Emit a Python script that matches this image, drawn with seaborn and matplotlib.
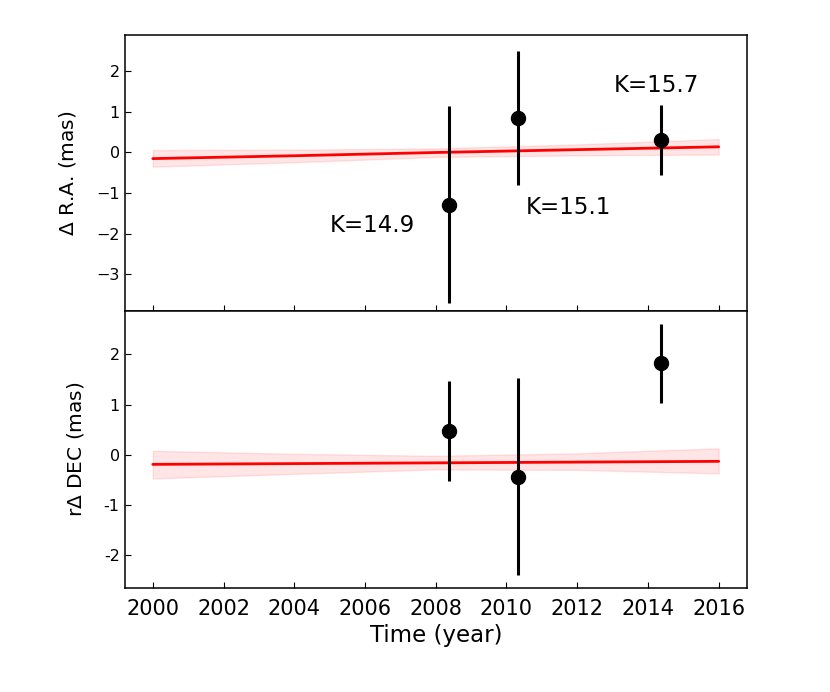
import matplotlib
matplotlib.use("Agg")
import matplotlib.pyplot as plt
from matplotlib.ticker import FuncFormatter
import seaborn as sns
import pandas as pd

# epochs of the three observations
epochs = [2008.37, 2010.33, 2014.38]
kmags = ["K=14.9", "K=15.1", "K=15.7"]

# offsets in R.A. and DEC (mas) with 1-sigma errors
d_ra = [-1.28, 0.84, 0.30]
d_ra_err = [2.43, 1.65, 0.86]
d_dec = [0.47, -0.44, 1.82]
d_dec_err = [0.99, 1.96, 0.79]

# linear fit and its confidence band
fit_years = [2000, 2004, 2008, 2012, 2016]
fit_ra = [-0.15, -0.08, 0.0, 0.07, 0.14]
fit_ra_lo = [-0.35, -0.24, -0.11, -0.07, -0.05]
fit_ra_hi = [0.06, 0.07, 0.10, 0.20, 0.33]
fit_dec = [-0.19, -0.175, -0.16, -0.145, -0.13]
fit_dec_lo = [-0.47, -0.38, -0.29, -0.30, -0.37]
fit_dec_hi = [0.08, 0.02, -0.02, 0.03, 0.13]

# where the K labels sit
label_pos = [(2006.2, -1.8), (2011.75, -1.35), (2014.25, 1.65)]

obs = pd.DataFrame({"year": epochs, "ra": d_ra, "dec": d_dec})
fit = pd.DataFrame({"year": fit_years, "ra": fit_ra, "dec": fit_dec})

sns.set_style("ticks")
plt.rcParams["font.family"] = ["DejaVu Sans"]
plt.rcParams["text.color"] = "black"
plt.rcParams["axes.labelcolor"] = "black"
plt.rcParams["axes.edgecolor"] = "black"
plt.rcParams["xtick.color"] = "black"
plt.rcParams["ytick.color"] = "black"

fig, (ax1, ax2) = plt.subplots(2, 1, figsize=(8.3, 6.92), dpi=100, sharex=True)
fig.subplots_adjust(left=0.15, right=0.9, top=0.95, bottom=0.151, hspace=0)

panels = [
    (ax1, "ra", d_ra_err, fit_ra_lo, fit_ra_hi, r"$\Delta$ R.A. (mas)", (-3.9, 2.9)),
    (ax2, "dec", d_dec_err, fit_dec_lo, fit_dec_hi, r"r$\Delta$ DEC (mas)", (-2.64, 2.86)),
]

for ax, col, err, lo, hi, lab, ylim in panels:
    ax.fill_between(fit_years, lo, hi, color="red", alpha=0.1, edgecolor=(1, 0, 0, 0.15), lw=1)
    sns.lineplot(data=fit, x="year", y=col, ax=ax, color="red", lw=2)
    ax.errorbar(obs["year"], obs[col], yerr=err, fmt="none", ecolor="black", elinewidth=2.2)
    sns.scatterplot(data=obs, x="year", y=col, ax=ax, color="black", s=105, edgecolor="black", zorder=5)
    ax.set_ylim(ylim)
    ax.set_ylabel(lab, fontsize=14.5, labelpad=13)
    ax.tick_params(direction="in", length=4, labelsize=11.5)
    for s in ax.spines.values():
        s.set_linewidth(1.1)

# lower panel uses plain hyphens for negative ticks
ax2.yaxis.set_major_formatter(FuncFormatter(lambda v, p: "%d" % v))

for txt, (x, y) in zip(kmags, label_pos):
    ax1.text(x, y, txt, fontsize=16.5, ha="center", va="center")

ax1.set_xlim(1999.2, 2016.8)
ax2.set_xticks([2000, 2002, 2004, 2006, 2008, 2010, 2012, 2014, 2016])
ax2.tick_params(axis="x", labelsize=15, pad=8)
ax2.set_xlabel("Time (year)", fontsize=16.5)
ax1.set_xlabel("")

fig.savefig("out.png", dpi=100)
